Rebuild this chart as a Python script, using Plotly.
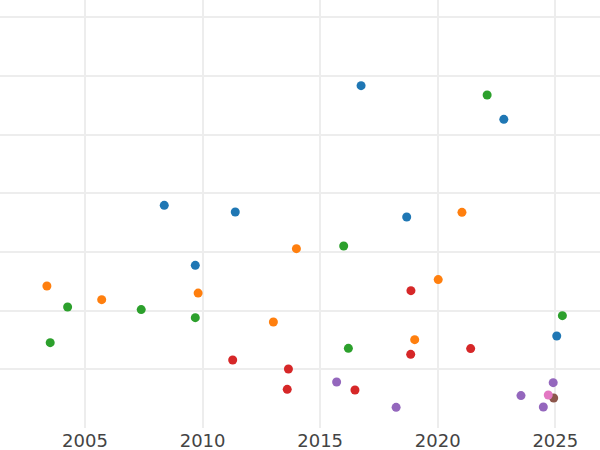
import plotly.graph_objects as go

series_names = ["A", "B", "C", "D", "E", "F", "G"]
colors = ["#1f77b4", "#ff7f0e", "#2ca02c", "#d62728", "#9467bd", "#8c564b", "#e377c2"]

a_x = [2016.74, 2022.81, 2008.37, 2011.39, 2018.68, 2009.69, 2025.06]
a_y = [5.835, 5.261, 3.795, 3.681, 3.596, 2.773, 1.568]

b_x = [2021.03, 2013.99, 2020.02, 2003.38, 2005.71, 2009.81, 2013.01, 2019.02]
b_y = [3.676, 3.057, 2.529, 2.420, 2.188, 2.300, 1.806, 1.506]

c_x = [2022.10, 2016.00, 2004.26, 2007.39, 2009.69, 2003.52, 2025.30, 2016.20]
c_y = [5.675, 3.102, 2.062, 2.018, 1.881, 1.455, 1.915, 1.358]

d_x = [2018.86, 2018.85, 2021.40, 2011.28, 2013.65, 2013.60, 2016.48]
d_y = [2.341, 1.256, 1.353, 1.159, 1.005, 0.659, 0.647]

e_x = [2015.70, 2018.23, 2023.54, 2024.91, 2024.49]
e_y = [0.784, 0.352, 0.552, 0.773, 0.357]

f_x = [2024.93]
f_y = [0.511]

g_x = [2024.70]
g_y = [0.562]

xs = [a_x, b_x, c_x, d_x, e_x, f_x, g_x]
ys = [a_y, b_y, c_y, d_y, e_y, f_y, g_y]

fig = go.Figure()
for name, color, x, y in zip(series_names, colors, xs, ys):
    fig.add_trace(go.Scatter(x=x, y=y, mode="markers", name=name,
                             marker=dict(color=color, size=9, line=dict(width=0))))

fig.update_layout(
    width=600, height=450,
    margin=dict(l=0, r=0, t=0, b=22),
    paper_bgcolor="white", plot_bgcolor="white",
    showlegend=False,
    font=dict(family="DejaVu Sans", size=18, color="#444"),
)
fig.update_xaxes(range=[2001.385, 2026.90], tick0=2005, dtick=5, showgrid=True,
                 gridcolor="#ededed", gridwidth=1.5, zeroline=False, showline=False,
                 ticks="", automargin=False)
fig.update_yaxes(range=[0, 428 / 58.67], tick0=0, dtick=1, showgrid=True,
                 gridcolor="#ededed", gridwidth=1.5, zeroline=False, showline=False,
                 showticklabels=False, ticks="", automargin=False)

fig.write_html("out.html",
               config={"displayModeBar": False},
               post_script="document.body.style.margin='0';document.body.style.overflow='hidden';")
